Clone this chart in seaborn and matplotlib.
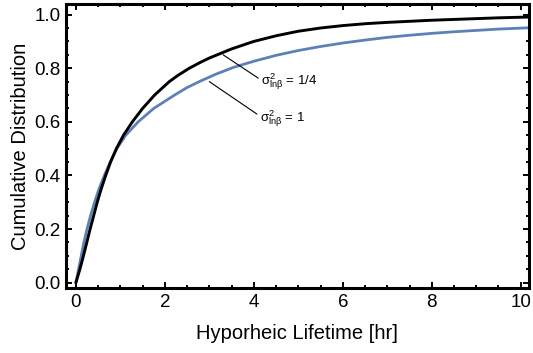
import pandas as pd
import matplotlib.pyplot as plt
import seaborn as sns
from matplotlib.ticker import MultipleLocator, FormatStrFormatter

# ---- values ----
t_quarter = [0.0, 0.09, 0.17, 0.245, 0.32, 0.40, 0.48, 0.57, 0.67, 0.78, 0.91, 1.07,
             1.27, 1.50, 1.77, 2.10, 2.30, 2.55, 2.80, 3.00, 3.50, 4.00, 4.50, 5.00,
             5.50, 6.00, 6.50, 7.00, 7.50, 8.00, 8.50, 9.00, 9.50, 10.20]
cdf_quarter = [0.0, 0.05, 0.10, 0.15, 0.20, 0.25, 0.30, 0.35, 0.40, 0.45, 0.50, 0.55,
               0.60, 0.65, 0.70, 0.75, 0.774, 0.800, 0.822, 0.838, 0.872, 0.900, 0.921, 0.938,
               0.950, 0.959, 0.966, 0.971, 0.975, 0.979, 0.982, 0.985, 0.988, 0.991]

t_one = [0.0, 0.06, 0.12, 0.18, 0.25, 0.33, 0.42, 0.52, 0.64, 0.77, 0.92, 1.12,
         1.40, 1.75, 2.22, 2.50, 2.80, 3.15, 3.54, 4.00, 4.50, 5.00, 5.50, 6.00,
         6.50, 7.00, 7.50, 8.00, 8.50, 9.00, 9.50, 10.20]
cdf_one = [0.0, 0.05, 0.10, 0.15, 0.20, 0.25, 0.30, 0.35, 0.40, 0.45, 0.50, 0.55,
           0.60, 0.65, 0.70, 0.728, 0.752, 0.778, 0.803, 0.826, 0.848, 0.866, 0.881, 0.894,
           0.905, 0.915, 0.923, 0.930, 0.936, 0.941, 0.946, 0.951]

labels = [r"$\mathregular{\sigma^2_{ln\beta}}$ = 1/4", r"$\mathregular{\sigma^2_{ln\beta}}$ = 1"]

sns.set_style("ticks")
plt.rcParams.update({
    "font.family": ["Liberation Sans", "DejaVu Sans"],
    "mathtext.fontset": "custom",
    "mathtext.rm": "Liberation Sans",
    "mathtext.it": "Liberation Sans:italic",
    "mathtext.bf": "Liberation Sans:bold",
    "text.color": "black",
    "axes.labelcolor": "black",
    "axes.edgecolor": "black",
    "xtick.color": "black",
    "ytick.color": "black",
})

df_q = pd.DataFrame({"t": t_quarter, "F": cdf_quarter})
df_o = pd.DataFrame({"t": t_one, "F": cdf_one})

fig = plt.figure(figsize=(5.33, 3.53), dpi=100)
ax = fig.add_axes([0.124, 0.184, 0.868, 0.805])

sns.lineplot(data=df_o, x="t", y="F", color="#5E81B5", linewidth=2.0, ax=ax)
sns.lineplot(data=df_q, x="t", y="F", color="black", linewidth=2.1, ax=ax)

ax.set_xlim(-0.22, 10.18)
ax.set_ylim(-0.02, 1.04)

ax.xaxis.set_major_locator(MultipleLocator(2))
ax.xaxis.set_minor_locator(MultipleLocator(0.5))
ax.yaxis.set_major_locator(MultipleLocator(0.2))
ax.yaxis.set_minor_locator(MultipleLocator(0.05))
ax.yaxis.set_major_formatter(FormatStrFormatter("%.1f"))

ax.tick_params(which="both", direction="in", top=True, right=True, width=1.4,
               labelsize=13.5, pad=4)
ax.tick_params(which="major", length=4.5)
ax.tick_params(which="minor", length=2.5)
for s in ax.spines.values():
    s.set_linewidth(2.2)

ax.set_xlabel("Hyporheic Lifetime [hr]", fontsize=14.5, labelpad=10)
ax.set_ylabel("Cumulative Distribution", fontsize=14.5, labelpad=3)

# leader lines and labels
ax.plot([3.31, 4.10], [0.85, 0.763], color="black", linewidth=0.8)
ax.text(4.17, 0.748, labels[0], fontsize=9.5, va="center", ha="left")
ax.plot([3.00, 4.07], [0.75, 0.629], color="black", linewidth=0.8)
ax.text(4.15, 0.613, labels[1], fontsize=9.5, va="center", ha="left")

fig.savefig("out.png", dpi=100)
